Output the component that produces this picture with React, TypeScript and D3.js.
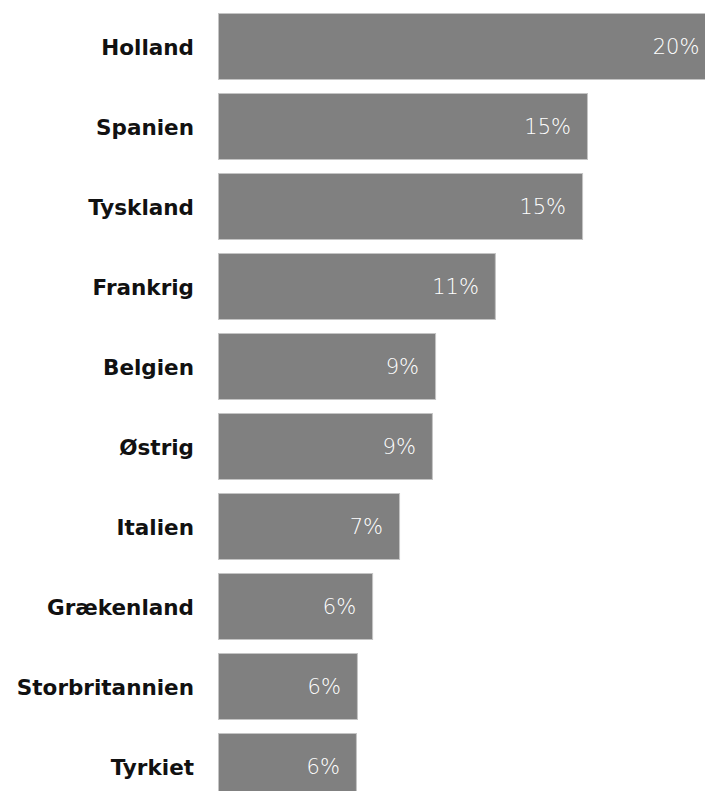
import React from "react";
import * as d3 from "d3";

const categories = ["Holland", "Spanien", "Tyskland", "Frankrig", "Belgien", "Østrig", "Italien", "Grækenland", "Storbritannien", "Tyrkiet"];
const values = [20.3, 15.06, 14.86, 11.3, 8.86, 8.73, 7.39, 6.29, 5.67, 5.63];
const valueLabels = ["20%", "15%", "15%", "11%", "9%", "9%", "7%", "6%", "6%", "6%"];

const W = 705;
const H = 791;
const left = 218;

export default function App() {
  const x = d3.scaleLinear().domain([0, 1]).range([0, 24.5]);
  const y = d3.scaleBand<string>().domain(categories).range([6, 806]).paddingInner(0.175).paddingOuter(0.0875);
  return (
    <div style={{ position: "absolute", left: 0, top: 0 }}>
      <svg width={W} height={H} style={{ display: "block" }}>
        <rect width={W} height={H} fill="#ffffff" />
        {categories.map((c, i) => {
          const yy = y(c)!;
          const bw = y.bandwidth();
          const w = x(values[i]);
          return (
            <g key={c}>
              <rect x={left + 0.5} y={yy + 0.5} width={w} height={bw} fill="#808080" stroke="#c4c4c4" strokeWidth={1} />
              <text x={194} y={yy + bw / 2 + 1} textAnchor="end" dominantBaseline="central" fontFamily="'DejaVu Sans', sans-serif" fontWeight={700} fontSize={21.5} fill="#111">{c}</text>
              <text x={left + w - 16} y={yy + bw / 2 + 1} textAnchor="end" dominantBaseline="central" fontFamily="'DejaVu Sans', sans-serif" fontWeight={200} fontSize={21} fill="#ffffff">{valueLabels[i]}</text>
            </g>
          );
        })}
      </svg>
    </div>
  );
}
